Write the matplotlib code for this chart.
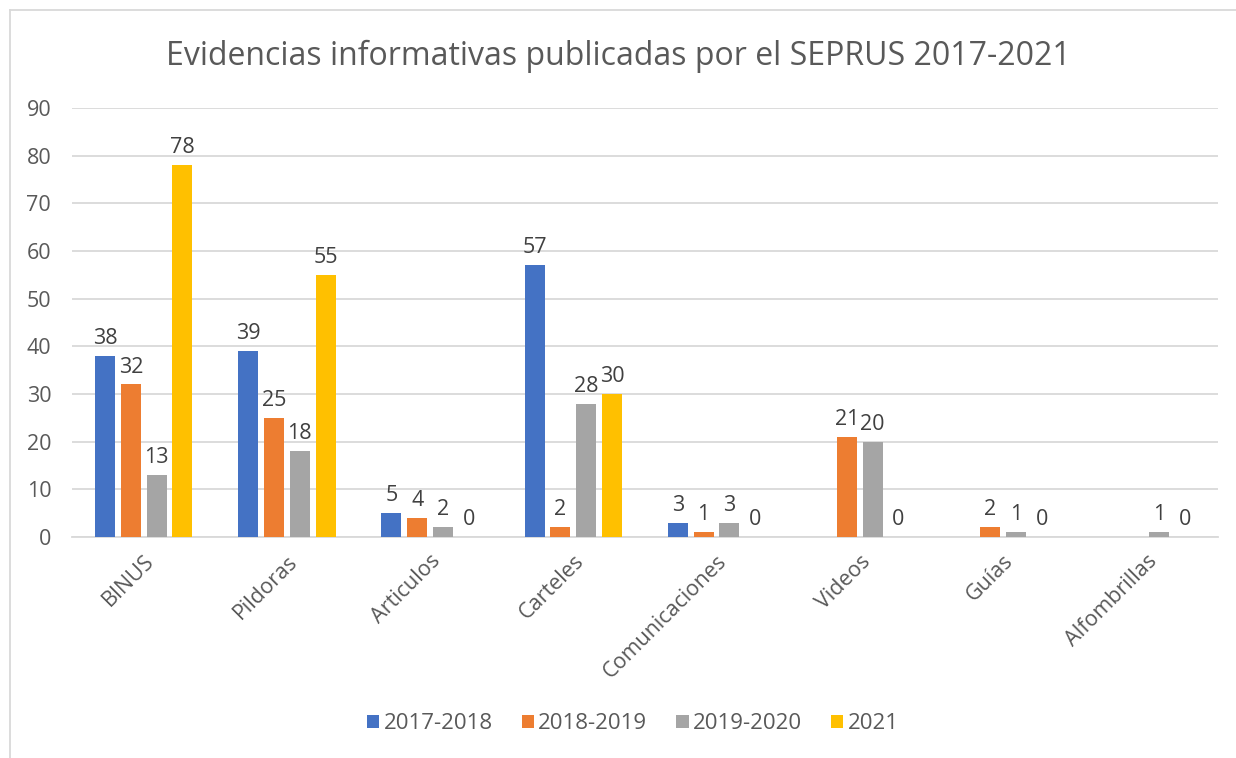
import matplotlib.pyplot as plt
import numpy as np

# datos del grafico
categorias = ['BINUS', 'Pildoras', 'Articulos', 'Carteles', 'Comunicaciones',
              'Videos', 'Guías', 'Alfombrillas']
series = ['2017-2018', '2018-2019', '2019-2020', '2021']
v_2017_2018 = [38, 39, 5, 57, 3, np.nan, np.nan, np.nan]
v_2018_2019 = [32, 25, 4, 2, 1, 21, 2, np.nan]
v_2019_2020 = [13, 18, 2, 28, 3, 20, 1, 1]
v_2021 = [78, 55, 0, 30, 0, 0, 0, 0]
valores = [v_2017_2018, v_2018_2019, v_2019_2020, v_2021]
colores = ['#4472C4', '#ED7D31', '#A5A5A5', '#FFC000']
yticks = [0, 10, 20, 30, 40, 50, 60, 70, 80, 90]

plt.rcParams['font.family'] = ['Open Sans', 'DejaVu Sans']
gris = '#595959'

fig = plt.figure(figsize=(12.36, 7.58), dpi=100)
ax = fig.add_axes([0.0583, 0.2916, 0.927, 0.5659])

x = np.arange(len(categorias))
ancho = 0.14
paso = 0.18
for i, (nombre, vals, c) in enumerate(zip(series, valores, colores)):
    pos = x + (i - 1.5) * paso
    vals = np.array(vals, dtype=float)
    ax.bar(pos, np.nan_to_num(vals), ancho, color=c, label=nombre, zorder=3)
    for p, v in zip(pos, vals):
        if np.isnan(v):
            continue
        ax.annotate(f'{v:.0f}', (p, v), xytext=(0, 5), textcoords='offset points',
                    ha='center', va='bottom', fontsize=15.5, color='#404040')

ax.set_xlim(-0.5, len(categorias) - 0.5)
ax.set_ylim(0, 90)
ax.set_yticks(yticks)
ax.yaxis.grid(True, color='#D9D9D9', linewidth=1.3, zorder=0)
ax.set_xticks(x)
ax.set_xticklabels(categorias, rotation=45, ha='right', rotation_mode='anchor',
                   fontsize=15.5, color=gris)
ax.tick_params(axis='y', labelsize=15.5, labelcolor=gris, length=0, pad=15)
ax.tick_params(axis='x', length=0, pad=10)
for s in ['top', 'right', 'left']:
    ax.spines[s].set_visible(False)
ax.spines['bottom'].set_color('#D9D9D9')
ax.spines['bottom'].set_linewidth(1.3)

fig.suptitle('Evidencias informativas publicadas por el SEPRUS 2017-2021',
             y=0.948, fontsize=23, color=gris)

fig.legend(loc='center', bbox_to_anchor=(0.512, 0.045), ncol=4, frameon=False,
           fontsize=16, labelcolor=gris, handlelength=0.55, handleheight=0.55,
           handletextpad=0.2, columnspacing=1.3)

# borde del area del grafico
fig.add_artist(plt.Line2D([0.008, 0.008], [0, 0.987], color='#D9D9D9', lw=1.3))
fig.add_artist(plt.Line2D([0.008, 1], [0.987, 0.987], color='#D9D9D9', lw=1.3))

fig.savefig('out.png', dpi=100)
